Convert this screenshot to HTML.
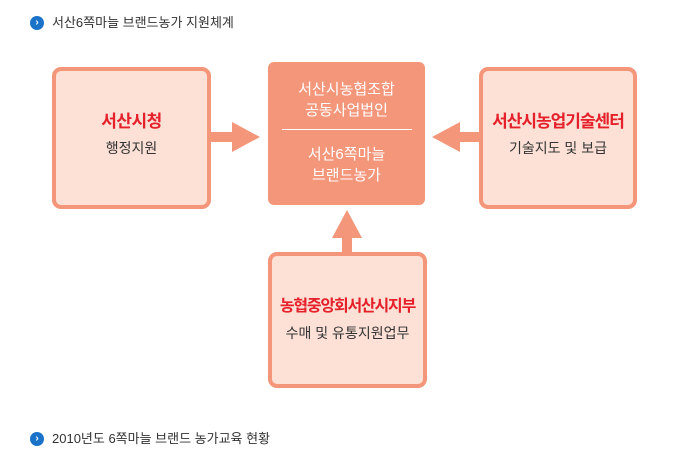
<!DOCTYPE html>
<html><head><meta charset="utf-8"><style>
body{margin:0;width:690px;height:470px;background:#fff;font-family:"Liberation Sans","Noto Sans CJK KR",sans-serif;position:relative;overflow:hidden}
.t{position:absolute;left:52px;font-size:13px;color:#333;line-height:16px}
.ic{position:absolute;left:30px;width:14px;height:14px;border-radius:50%;background:#1a73c8;color:#fff;font-size:10px;line-height:14px;text-align:center;font-weight:bold}
.b{position:absolute;box-sizing:border-box;border:4px solid #f4967a;background:#fde1d6;border-radius:9px;text-align:center}
.r{color:#e5202a;font-size:17px;font-weight:bold;line-height:22px;white-space:nowrap;letter-spacing:-0.5px}
.s{color:#333;font-size:14px;line-height:20px;margin-top:5px;white-space:nowrap}
.c{position:absolute;left:268px;top:62px;width:157px;height:143px;background:#f4967a;border-radius:6px;color:#fff;text-align:center;font-size:15px;line-height:21px}
</style></head><body>
<div class="ic" style="top:16px">›</div><div class="t" style="top:15px">서산6쪽마늘 브랜드농가 지원체계</div>
<div class="ic" style="top:432px">›</div><div class="t" style="top:431px">2010년도 6쪽마늘 브랜드 농가교육 현황</div>
<div class="b" style="left:52px;top:67px;width:159px;height:142px;padding-top:40px"><div class="r">서산시청</div><div class="s">행정지원</div></div>
<div class="b" style="left:479px;top:67px;width:158px;height:142px;padding-top:40px"><div class="r" style="letter-spacing:-1px">서산시농업기술센터</div><div class="s">기술지도 및 보급</div></div>
<div class="b" style="left:268px;top:252px;width:159px;height:136px;padding-top:40px"><div class="r" style="font-size:16px;letter-spacing:-1.2px">농협중앙회서산시지부</div><div class="s">수매 및 유통지원업무</div></div>
<div class="c"><div style="margin-top:17px">서산시농협조합<br>공동사업법인</div><div style="margin:8px auto 14px;width:130px;border-top:1px solid #fff"></div><div>서산6쪽마늘<br>브랜드농가</div></div>
<svg style="position:absolute;left:0;top:0" width="690" height="470">
<g fill="#f4967a">
<rect x="210" y="132" width="24" height="10"/><polygon points="232,122 260,137 232,152"/>
<rect x="458" y="132" width="23" height="10"/><polygon points="460,122 432,137 460,152"/>
<rect x="342" y="236" width="10" height="17"/><polygon points="332,238 347,210 362,238"/>
</g></svg>
</body></html>
